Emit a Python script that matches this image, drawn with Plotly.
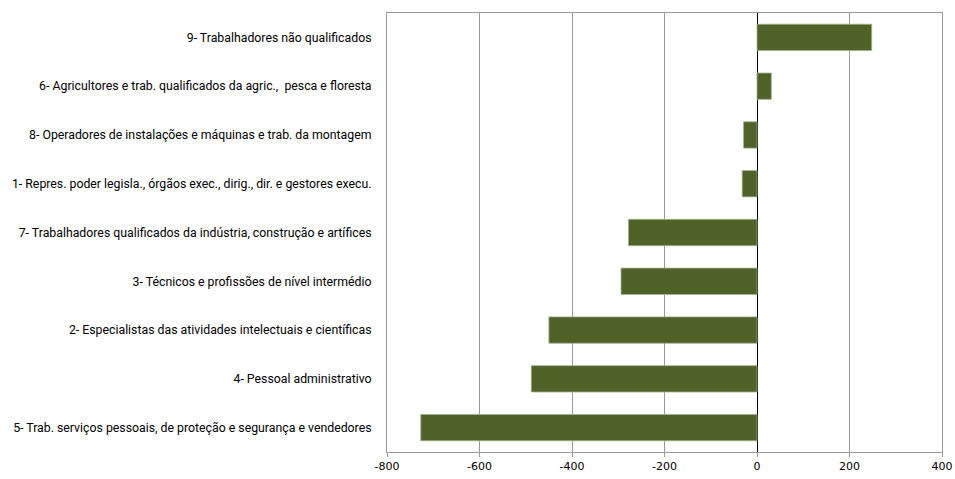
import plotly.graph_objects as go

categories = [
    "9- Trabalhadores não qualificados",
    "6- Agricultores e trab. qualificados da agric.,\u00a0 pesca e floresta",
    "8- Operadores de instalações e máquinas e trab. da montagem",
    "1- Repres. poder legisla., órgãos exec., dirig., dir. e gestores execu.",
    "7- Trabalhadores qualificados da indústria, construção e artífices",
    "3- Técnicos e profissões de nível intermédio",
    "2- Especialistas das atividades intelectuais e científicas",
    "4- Pessoal administrativo",
    "5- Trab. serviços pessoais, de proteção e segurança e vendedores",
]
values = [248, 31, -29, -32, -278, -294, -450, -488, -727]
tick_vals = [-800, -600, -400, -200, 0, 200, 400]
tick_text = ["-800", "-600", "-400", "-200", "0", "200", "400"]

fig = go.Figure(go.Bar(
    x=values, y=categories, orientation="h",
    marker=dict(color="#4f6228", line=dict(color="#a3b38a", width=0.8)),
    width=0.54,
))

fig.update_layout(
    width=955, height=479,
    margin=dict(l=387, r=13, t=13, b=27),
    paper_bgcolor="white", plot_bgcolor="white",
    showlegend=False,
    bargap=0.46,
)
fig.update_xaxes(
    range=[-800, 400], tickvals=tick_vals, ticktext=tick_text,
    automargin=False,
    showgrid=True, gridcolor="#9a9a9a", gridwidth=1,
    zeroline=True, zerolinecolor="black", zerolinewidth=1,
    showline=True, linecolor="#9a9a9a", linewidth=1, mirror=True,
    ticks="outside", ticklen=4, tickcolor="#9a9a9a",
    tickfont=dict(family="DejaVu Sans", size=11, color="black"),
)
fig.update_yaxes(
    autorange="reversed", type="category", automargin=False,
    showgrid=False, zeroline=False,
    showline=True, linecolor="#9a9a9a", linewidth=1, mirror=True,
    ticks="", ticklabelstandoff=12,
    tickfont=dict(family="Roboto, sans-serif", size=12.3, color="black"),
)

fig.write_html(
    "out.html",
    config={"displayModeBar": False},
    post_script="document.body.style.margin='0';document.body.style.overflow='hidden';",
)
